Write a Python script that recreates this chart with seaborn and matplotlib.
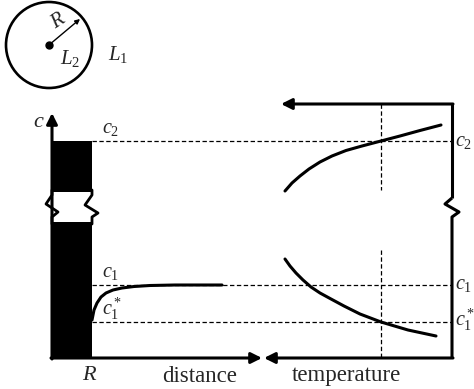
import matplotlib
matplotlib.use("Agg")
import matplotlib.pyplot as plt
import seaborn as sns
import pandas as pd
import numpy as np
from matplotlib.patches import Circle, Rectangle

sns.set_style("white")
plt.rcParams['font.family'] = ['Liberation Serif', 'DejaVu Serif']
plt.rcParams['mathtext.fontset'] = 'custom'
plt.rcParams['mathtext.it'] = 'Liberation Serif:italic'
plt.rcParams['mathtext.rm'] = 'Liberation Serif'

# ---- data (schematic, in picture units; y grows downward) ----
level_names = ["c2", "c1", "c1*"]
level_y = [141, 285, 322]

# concentration vs distance from the particle surface
distance_x = [92, 94, 97, 101, 106, 113, 122, 134, 150, 175, 200, 222]
distance_c = [320, 310, 303, 297, 293, 290, 288, 286.5, 285.5, 285, 285, 285]

# concentration vs temperature (upper branch c2, lower branch c1)
temp_x_upper = [285, 292, 300, 309, 320, 332, 346, 362, 381, 400, 420, 441]
temp_c_upper = [191, 183, 176, 169, 162, 156, 150.5, 146, 141, 136, 130.5, 125]
temp_x_lower = [285, 290, 296, 303, 311, 320, 331, 344, 360, 381, 408, 436]
temp_c_lower = [259, 266, 273, 280, 287, 293, 299, 306, 314, 322, 330, 336]

T_mark = 381

fig = plt.figure(figsize=(4.74, 3.89), dpi=100)
ax = fig.add_axes([0, 0, 1, 1])

K = 'black'
lw_axis = 2.2
lw_dash = 0.9
dash = (0, (3.5, 2))

# ---- circle inset ----
ax.add_patch(Circle((49, 45), 43, fill=False, lw=1.9, color=K))
ax.plot([49], [45], 'o', color=K, ms=5)
ax.annotate('', xy=(80, 19), xytext=(49, 45),
            arrowprops=dict(arrowstyle='-|>', lw=1.0, color=K, mutation_scale=7,
                            shrinkA=0, shrinkB=0))
ax.text(58, 22, 'R', fontsize=15, style='italic', rotation=33, ha='center', va='center')
ax.text(70, 58, r'$L_2$', fontsize=15, ha='center', va='center')
ax.text(118, 54, r'$L_1$', fontsize=15, ha='center', va='center')

# ---- dashed guide lines ----
for y in level_y:
    ax.plot([92, 452], [y, y], color=K, lw=lw_dash, ls=dash)
ax.plot([T_mark, T_mark], [104, 190], color=K, lw=lw_dash, ls=dash)
ax.plot([T_mark, T_mark], [250, 358], color=K, lw=lw_dash, ls=dash)

# ---- left solid particle bar with break ----
ax.add_patch(Rectangle((52, 141), 40, 192 - 141, color=K, lw=0))
ax.add_patch(Rectangle((52, 222), 40, 358 - 222, color=K, lw=0))
ax.plot([52, 52, 46, 58, 52, 52], [190, 195, 204, 212, 217, 224], color=K, lw=2.0)
ax.plot([92, 92, 85, 98, 92, 92], [190, 195, 205, 213, 217, 224], color=K, lw=2.0)

# ---- axes (left y-axis, distance axis) ----
ax.annotate('', xy=(52, 113), xytext=(52, 359),
            arrowprops=dict(arrowstyle='-|>', lw=lw_axis, color=K, mutation_scale=16,
                            shrinkA=0, shrinkB=0))
ax.annotate('', xy=(262, 358), xytext=(51, 358),
            arrowprops=dict(arrowstyle='-|>', lw=lw_axis, color=K, mutation_scale=16,
                            shrinkA=0, shrinkB=0))
# temperature axis (right frame)
ax.annotate('', xy=(264, 358), xytext=(453, 358),
            arrowprops=dict(arrowstyle='-|>', lw=lw_axis, color=K, mutation_scale=16,
                            shrinkA=0, shrinkB=0))
ax.annotate('', xy=(281, 104), xytext=(453, 104),
            arrowprops=dict(arrowstyle='-|>', lw=lw_axis, color=K, mutation_scale=16,
                            shrinkA=0, shrinkB=0))
ax.plot([452, 452], [104, 198], color=K, lw=lw_axis, solid_capstyle='butt')
ax.plot([452, 445, 459, 452, 452], [198, 204, 212, 217, 359], color=K, lw=lw_axis,
        solid_capstyle='butt')

# ---- curves ----
df_d = pd.DataFrame({'x': distance_x, 'c': distance_c})
sns.lineplot(data=df_d, x='x', y='c', ax=ax, color=K, lw=2.2, sort=False)
df_u = pd.DataFrame({'x': temp_x_upper, 'c': temp_c_upper})
sns.lineplot(data=df_u, x='x', y='c', ax=ax, color=K, lw=2.2, sort=False)
df_l = pd.DataFrame({'x': temp_x_lower, 'c': temp_c_lower})
sns.lineplot(data=df_l, x='x', y='c', ax=ax, color=K, lw=2.2, sort=False)
ax.set_xlim(0, 474)
ax.set_ylim(389, 0)
ax.axis('off')

# ---- labels ----
fs = 14.5
ax.text(39, 122, r'$c$', fontsize=16, ha='center', va='center')
ax.text(102, 128, r'$c_2$', fontsize=fs, ha='left', va='center')
ax.text(102, 272, r'$c_1$', fontsize=fs, ha='left', va='center')
ax.text(102, 309, r'$c_1^*$', fontsize=fs, ha='left', va='center')
ax.text(455, 141, r'$c_2$', fontsize=fs, ha='left', va='center')
ax.text(455, 285, r'$c_1$', fontsize=fs, ha='left', va='center')
ax.text(455, 320, r'$c_1^*$', fontsize=fs, ha='left', va='center')
ax.text(89, 376, 'R', fontsize=16, style='italic', ha='center', va='center')
ax.text(200, 376, 'distance', fontsize=16.5, ha='center', va='center')
ax.text(346, 376, 'temperature', fontsize=16.5, ha='center', va='center')

fig.savefig('out.png', dpi=100)
